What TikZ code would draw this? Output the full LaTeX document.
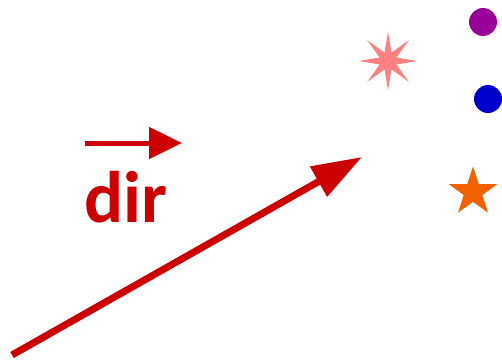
\documentclass[tikz,border=0pt]{standalone}
\usepackage{fontspec}
\newfontfamily\dirfont{Carlito}
\usetikzlibrary{arrows.meta,calc}
\definecolor{arrred}{HTML}{CC0000}
\definecolor{dotpurple}{HTML}{990099}
\definecolor{dotblue}{HTML}{0000CC}
\definecolor{starpink}{HTML}{FF8080}
\definecolor{starorange}{HTML}{F26100}
\tikzset{
  bigarrow/.style={draw=arrred, line width=7pt, -{Triangle[length=50pt,width=33pt]}},
  smallarrow/.style={draw=arrred, line width=5pt, -{Triangle[length=33pt,width=31pt]}},
  dot/.style={circle, inner sep=0pt, minimum size=28pt},
}
\begin{document}
\begin{tikzpicture}[x=1pt,y=-1pt]
\useasboundingbox (0,0) rectangle (502,361);
% dots
\node[dot, fill=dotpurple] (purple) at (483,22) {};
\node[dot, fill=dotblue] (blue) at (488,99) {};
% 8-point star
\fill[starpink] ($(388,61)+(90:29.5)$)
  \foreach \k in {1,...,15} { -- ($(388,61)+({90+22.5*\k}:{mod(\k,2)==1 ? 9 : 29.5})$) } -- cycle;
% 5-point star
\fill[starorange] ($(473,192)+(-90:25.5)$)
  \foreach \k in {1,...,9} { -- ($(473,192)+({-90+36*\k}:{mod(\k,2)==1 ? 9.8 : 25.5})$) } -- cycle;
% arrows
\coordinate (s1) at (85,143);
\coordinate (e1) at (182,143);
\draw[smallarrow] (s1) -- (e1);
\node[anchor=base west, inner sep=0pt, text=arrred, font=\dirfont\bfseries\fontsize{73}{73}\selectfont] (dir) at (84,222) {dir};
\coordinate (s2) at (12,355);
\coordinate (e2) at (362,157);
\draw[bigarrow] (s2) -- (e2);
\end{tikzpicture}
\end{document}
